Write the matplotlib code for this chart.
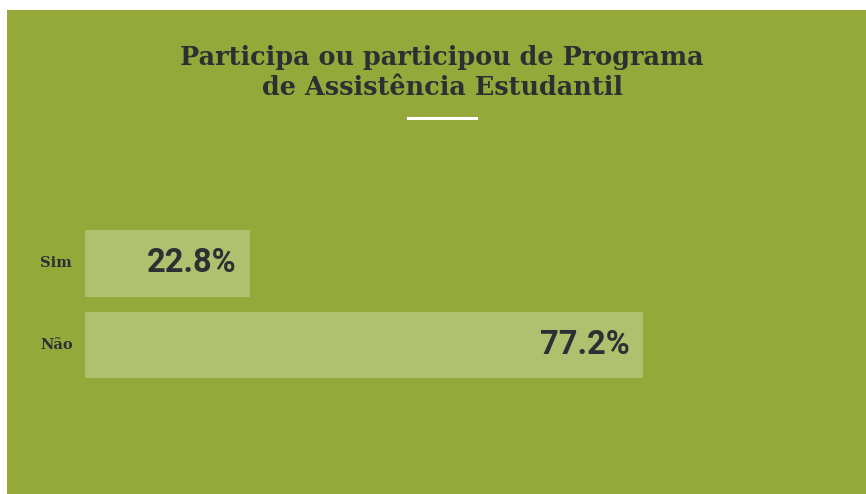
import matplotlib.pyplot as plt
from matplotlib.patches import Rectangle

categories = ["Sim", "Não"]
values = [22.8, 77.2]
title_lines = ["Participa ou participou de Programa", "de Assistência Estudantil"]

W, H = 866, 494
green = "#94a93a"
bar_color = "#afc06f"
text_color = "#2b3033"

fig = plt.figure(figsize=(W / 100, H / 100), dpi=100)
fig.patch.set_facecolor("white")
fig.add_artist(Rectangle((7 / W, 0), 1, (H - 10) / H, transform=fig.transFigure,
                         facecolor=green, edgecolor="none", zorder=0))

# title
fig.text(442 / W, 1 - 57 / H, title_lines[0], ha="center", va="center",
         fontsize=18.4, fontweight="bold", family="DejaVu Serif", color=text_color)
fig.text(442 / W, 1 - 87 / H, title_lines[1], ha="center", va="center",
         fontsize=18.4, fontweight="bold", family="DejaVu Serif", color=text_color)
fig.add_artist(plt.Line2D([408 / W, 476 / W], [1 - 118 / H, 1 - 118 / H],
                          transform=fig.transFigure, color="white", lw=2.2))

ax = fig.add_axes([85 / W, 0, 723 / W, (H - 10) / H])
ax.set_facecolor("none")
ypos = list(range(len(categories)))
ax.barh(ypos, values, height=0.82, color=bar_color)
ax.set_xlim(0, 100)
ax.set_ylim(2.829, -3.11)
for y, v, c in zip(ypos, values, categories):
    ax.text(v - 1.9, y, f"{v:.1f}%", ha="right", va="center", fontsize=23.5,
            fontweight="bold", family="Roboto", color=text_color)
    ax.text(-6.2, y, c, ha="left", va="center", fontsize=10.5,
            fontweight="bold", family="DejaVu Serif", color=text_color)
ax.axis("off")

fig.savefig("out.png", dpi=100)
